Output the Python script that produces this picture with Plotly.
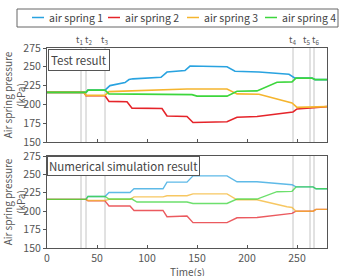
import plotly.graph_objects as go

names = ["air spring 1", "air spring 2", "air spring 3", "air spring 4"]
colors = ["#29a3e0", "#e5242a", "#f5b52e", "#3dd63d"]

# Test result
test_t1 = [0, 35, 39, 41, 58, 63, 78, 82, 86, 114, 120, 138, 143, 180, 188, 212, 242, 248, 265, 268, 280]
test_v1 = [216, 216, 216, 219, 219, 225, 229, 233, 234, 236, 243, 245, 251, 250, 244, 243, 240, 235, 235, 233, 233]
test_t2 = [0, 37, 39, 58, 62, 80, 85, 115, 120, 140, 146, 180, 190, 210, 240, 246, 250, 265, 280]
test_v2 = [216, 216, 211.5, 211.5, 204, 203.5, 195, 194.5, 184.5, 184, 176, 177, 183, 184, 189, 190, 194, 196, 197]
test_t3 = [0, 37, 39, 58, 62, 85, 140, 180, 190, 212, 240, 245, 250, 265, 280]
test_v3 = [216, 216, 212, 212, 217, 218, 220.5, 220.5, 214, 213.5, 203.5, 202, 196, 197, 197]
test_t4 = [0, 39, 41, 58, 62, 145, 150, 180, 190, 210, 230, 245, 249, 265, 268, 280]
test_v4 = [216, 216, 219, 219, 214, 213, 211, 211, 217.5, 218, 229.5, 230, 235, 235, 233, 233]

# Numerical simulation result
sim_t1 = [0, 39, 41, 58, 62, 83, 87, 116, 120, 140, 146, 180, 190, 210, 245, 249, 266, 269, 280]
sim_v1 = [216, 216, 220, 220, 225.5, 225.5, 230.5, 230.5, 239.5, 239.5, 248, 248, 240, 240, 236, 233, 233, 230.5, 230.5]
sim_t2 = [0, 39, 41, 58, 62, 83, 87, 116, 120, 140, 146, 180, 190, 210, 245, 249, 266, 269, 280]
sim_v2 = [216, 216, 214, 214, 207, 207, 201, 201, 192.5, 193.5, 184.5, 184.5, 191, 191.5, 197, 200, 200, 202.5, 202.5]
sim_t3 = [0, 39, 41, 58, 62, 83, 87, 116, 120, 140, 146, 180, 190, 210, 240, 245, 249, 266, 269, 280]
sim_v3 = [216, 216, 214.5, 214.5, 216, 216, 219.5, 219.5, 221, 221, 223.5, 223.5, 215.5, 215.5, 206, 205, 200, 200, 202.5, 202.5]
sim_t4 = [0, 39, 41, 58, 62, 85, 90, 140, 146, 180, 190, 210, 230, 245, 249, 266, 269, 280]
sim_v4 = [216, 216, 220, 220, 216.5, 216.5, 212.5, 212.5, 210.5, 210.5, 216.5, 216.5, 226.5, 227, 233, 233, 230.5, 230.5]

event_times = [34, 39, 58, 246, 263, 267]
event_labels = ["t<sub>1</sub>", "t<sub>2</sub>", "t<sub>3</sub>", "t<sub>4</sub>", "t<sub>5</sub>", "t<sub>6</sub>"]
y_ticks = [150, 175, 200, 225, 250, 275]
x_ticks = [0, 50, 100, 150, 200, 250]

FONT = "Noto Sans CJK JP"
W, H = 341, 276
ML, MR, MT, MB = 47, 14, 48, 28
PW, PH = W - ML - MR, H - MT - MB


def px_x(px):
    return (px - ML) / PW


def px_y(py):
    return (H - MB - py) / PH


fig = go.Figure()

test = [(test_t1, test_v1), (test_t2, test_v2), (test_t3, test_v3), (test_t4, test_v4)]
sim = [(sim_t1, sim_v1), (sim_t2, sim_v2), (sim_t3, sim_v3), (sim_t4, sim_v4)]

for i, (t, v) in enumerate(test):
    fig.add_trace(go.Scatter(x=t, y=v, mode="lines", name=names[i], showlegend=False,
                             line=dict(color=colors[i], width=1.6),
                             xaxis="x", yaxis="y"))
for i, (t, v) in enumerate(sim):
    fig.add_trace(go.Scatter(x=t, y=v, mode="lines", name=names[i], showlegend=False,
                             line=dict(color=colors[i], width=1.4), opacity=0.75,
                             xaxis="x2", yaxis="y2"))

shapes = []
for et in event_times:
    for xr, yr in [("x", "y domain"), ("x2", "y2 domain")]:
        shapes.append(dict(type="line", xref=xr, yref=yr,
                           x0=et, x1=et, y0=0, y1=1,
                           line=dict(color="#c4c4c4", width=1), layer="below"))

annotations = []

# legend (drawn as a key box at the top)
shapes.append(dict(type="rect", xref="paper", yref="paper",
                   x0=px_x(17), x1=px_x(338), y0=px_y(27), y1=px_y(9),
                   line=dict(color="#666", width=1), fillcolor="white"))
legend_text_px = [47, 123, 202, 280]
for name, col, tx in zip(names, colors, legend_text_px):
    shapes.append(dict(type="line", xref="paper", yref="paper",
                       x0=px_x(tx - 15), x1=px_x(tx - 3), y0=px_y(17.5), y1=px_y(17.5),
                       line=dict(color=col, width=1.5)))
    annotations.append(dict(x=px_x(tx), y=px_y(17.5), xref="paper", yref="paper", text=name,
                            showarrow=False, xanchor="left", yanchor="middle",
                            font=dict(size=10.5, color="#444", family=FONT)))

# event labels
anchors = ["right", "left", "center", "center", "right", "left"]
shifts = [3, -2, -1, -1, 1, -3]
for et, lab, an, sh in zip(event_times, event_labels, anchors, shifts):
    annotations.append(dict(x=et, y=1.0, xref="x", yref="y domain", text=lab,
                            showarrow=False, yanchor="bottom", yshift=0, xanchor=an, xshift=sh,
                            borderpad=0,
                            font=dict(size=9, color="#555", family=FONT)))
annotations.append(dict(x=0.002, y=0.985, xref="paper", yref="y domain", text="Test result",
                        showarrow=False, xanchor="left", yanchor="top",
                        bordercolor="#555", borderwidth=1, bgcolor="white", borderpad=2,
                        font=dict(size=11.5, color="#444", family=FONT)))
annotations.append(dict(x=0.0, y=1.0, xref="paper", yref="y2 domain", text="Numerical simulation result",
                        showarrow=False, xanchor="left", yanchor="top",
                        bordercolor="#555", borderwidth=1, bgcolor="white", borderpad=1,
                        font=dict(size=11.5, color="#444", family=FONT)))
# x-axis title
annotations.append(dict(x=0.5, y=px_y(263), xref="paper", yref="paper", text="Time(s)",
                        showarrow=False, xanchor="center", yanchor="top", borderpad=0,
                        font=dict(size=10, color="#555", family=FONT)))

axis_common = dict(showline=True, linecolor="#555", linewidth=1.2, mirror=True,
                   showgrid=False, zeroline=False, ticklen=3,
                   tickcolor="#555", tickfont=dict(size=10.5, color="#555", family=FONT))
ytitle = dict(text="Air spring pressure<br>(kPa)", standoff=3,
              font=dict(size=10, color="#555", family=FONT))

fig.update_layout(
    width=W, height=H,
    margin=dict(l=ML, r=MR, t=MT, b=MB, autoexpand=False),
    plot_bgcolor="white", paper_bgcolor="white",
    showlegend=False,
    xaxis=dict(domain=[0, 1], range=[0, 280], tickvals=x_ticks, showticklabels=False,
               ticks="inside", anchor="y", **axis_common),
    yaxis=dict(domain=[px_y(142), 1], range=[150, 275], tickvals=y_ticks, anchor="x",
               ticks="outside", title=ytitle, **axis_common),
    xaxis2=dict(domain=[0, 1], range=[0, 280], tickvals=x_ticks, anchor="y2", ticks="inside",
                **axis_common),
    yaxis2=dict(domain=[0, px_y(156)], range=[150, 275], tickvals=y_ticks, anchor="x2",
                ticks="outside", title=ytitle, **axis_common),
    shapes=shapes,
    annotations=annotations,
)

fig.write_html("out.html")
